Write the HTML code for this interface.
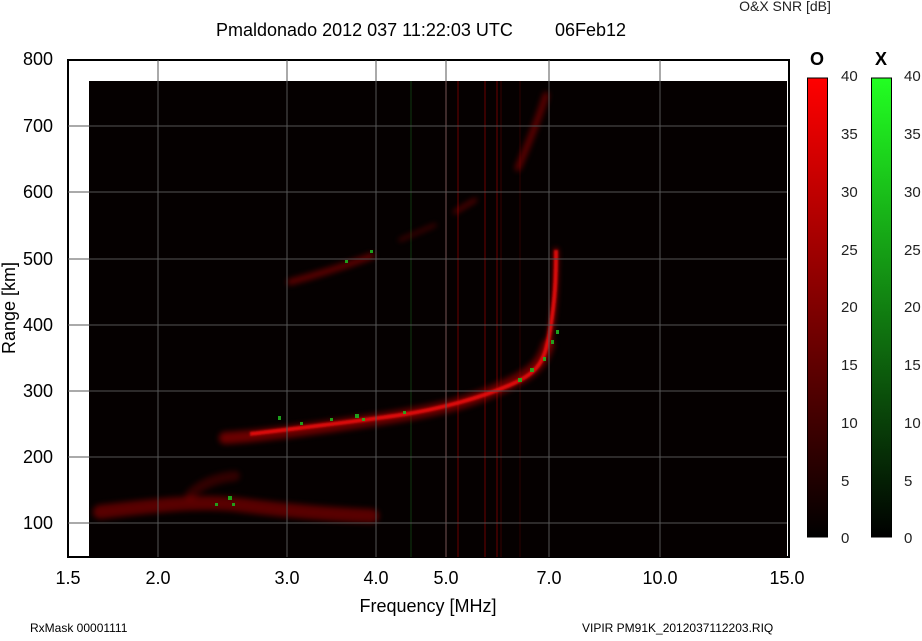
<!DOCTYPE html><html><head><style>
body{margin:0;background:#fff;width:922px;height:636px;overflow:hidden;font-family:"Liberation Sans",sans-serif}
</style></head><body>
<svg width="922" height="636" xmlns="http://www.w3.org/2000/svg" font-family="Liberation Sans, sans-serif">
<defs>
<filter id="b"><feGaussianBlur stdDeviation="3"/></filter>
<filter id="b2"><feGaussianBlur stdDeviation="1"/></filter>
<linearGradient id="gr" x1="0" y1="0" x2="0" y2="1"><stop offset="0" stop-color="#ff0000"/><stop offset="1" stop-color="#000"/></linearGradient>
<linearGradient id="gg" x1="0" y1="0" x2="0" y2="1"><stop offset="0" stop-color="#22ff22"/><stop offset="1" stop-color="#000"/></linearGradient>
</defs>
<text x="216" y="36" font-size="18">Pmaldonado 2012 037 11:22:03 UTC</text>
<text x="555" y="36" font-size="18">06Feb12</text>
<text x="787" y="11" font-size="14" fill="#222" text-anchor="middle" transform="translate(0,0)"><tspan x="785">O&amp;X SNR [dB]</tspan></text>
<rect x="68" y="60" width="721" height="497" fill="#fff" stroke="#000" stroke-width="2"/>
<rect x="89" y="81" width="698" height="476" fill="#050000"/>
<g stroke="#5a0000" stroke-width="1.5" opacity="0.8">
<line x1="446" y1="81" x2="446" y2="557"/><line x1="458" y1="81" x2="458" y2="557"/>
<line x1="485" y1="81" x2="485" y2="557"/><line x1="497" y1="81" x2="497" y2="557"/>
<line x1="501" y1="81" x2="501" y2="557" opacity="0.5"/><line x1="411" y1="81" x2="411" y2="557" stroke="#0f2f0f"/>
<line x1="520" y1="81" x2="520" y2="557" opacity="0.4"/>
</g>
<g fill="none" stroke="#c00000" stroke-linecap="round" filter="url(#b)">
<path d="M225 438 C260 436 320 428 380 419 S470 402 500 388 S540 368 548 345" stroke-width="12" opacity="0.55"/>
<path d="M548 345 C554 320 556 290 556 250" stroke-width="4" opacity="0.8"/>
<path d="M100 512 C150 506 200 500 240 505 S320 514 372 516" stroke-width="14" opacity="0.45"/>
<path d="M290 282 C320 274 345 266 372 256" stroke-width="6" opacity="0.5"/>
<path d="M400 240 L435 225" stroke-width="3" opacity="0.4"/>
<path d="M455 212 L475 200" stroke-width="4" opacity="0.45"/>
<path d="M518 168 C530 140 540 115 546 95" stroke-width="6" opacity="0.5"/>
<path d="M190 495 C200 485 215 478 235 476" stroke-width="10" opacity="0.25"/>
</g>
<g fill="none" stroke="#f01010" stroke-width="4" filter="url(#b2)" opacity="0.9">
<path d="M250 434 C300 428 360 421 400 415 S480 398 510 385 S545 360 550 330 S556 280 556 250"/>
</g>
<g fill="#20b020" opacity="0.9">
<rect x="278" y="416" width="3" height="4"/><rect x="300" y="422" width="3" height="3"/><rect x="330" y="418" width="3" height="3"/><rect x="355" y="414" width="4" height="4"/><rect x="362" y="418" width="3" height="3"/>
<rect x="403" y="411" width="3" height="3"/><rect x="518" y="378" width="4" height="4"/><rect x="530" y="368" width="4" height="4"/><rect x="543" y="357" width="3" height="4"/>
<rect x="551" y="340" width="3" height="4"/><rect x="556" y="330" width="3" height="4"/><rect x="228" y="496" width="4" height="4"/><rect x="215" y="503" width="3" height="3"/><rect x="232" y="503" width="3" height="3"/>
<rect x="370" y="250" width="3" height="3"/><rect x="345" y="260" width="3" height="3"/>
</g>
<g stroke="#555" stroke-width="1">
<line x1="158" y1="60" x2="158" y2="557"/><line x1="287" y1="60" x2="287" y2="557"/><line x1="376" y1="60" x2="376" y2="557"/>
<line x1="446" y1="60" x2="446" y2="557"/><line x1="549" y1="60" x2="549" y2="557"/><line x1="660" y1="60" x2="660" y2="557"/>
<line x1="68" y1="126" x2="787" y2="126"/><line x1="68" y1="192" x2="787" y2="192"/><line x1="68" y1="259" x2="787" y2="259"/>
<line x1="68" y1="325" x2="787" y2="325"/><line x1="68" y1="391" x2="787" y2="391"/><line x1="68" y1="457" x2="787" y2="457"/>
<line x1="68" y1="523" x2="787" y2="523"/>
</g>
<g font-size="18" text-anchor="end">
<text x="53" y="65">800</text><text x="53" y="132">700</text><text x="53" y="198">600</text><text x="53" y="265">500</text>
<text x="53" y="331">400</text><text x="53" y="397">300</text><text x="53" y="463">200</text><text x="53" y="529">100</text>
</g>
<g font-size="18" text-anchor="middle">
<text x="68" y="584">1.5</text><text x="158" y="584">2.0</text><text x="287" y="584">3.0</text><text x="376" y="584">4.0</text>
<text x="446" y="584">5.0</text><text x="549" y="584">7.0</text><text x="660" y="584">10.0</text><text x="787" y="584">15.0</text>
</g>
<text x="428" y="612" font-size="18" text-anchor="middle">Frequency [MHz]</text>
<text transform="translate(15,308) rotate(-90)" font-size="18" text-anchor="middle">Range [km]</text>
<text x="30" y="632" font-size="12">RxMask 00001111</text>
<text x="582" y="632" font-size="12">VIPIR  PM91K_2012037112203.RIQ</text>
<rect x="807.5" y="78" width="20" height="459" fill="url(#gr)" stroke="#000"/>
<rect x="871.5" y="78" width="20" height="459" fill="url(#gg)" stroke="#000"/>
<text x="817" y="65" font-size="18" font-weight="bold" text-anchor="middle">O</text>
<text x="881" y="65" font-size="18" font-weight="bold" text-anchor="middle">X</text>
<g font-size="15" fill="#222">
<text x="841" y="81">40</text><text x="841" y="139">35</text><text x="841" y="197">30</text><text x="841" y="255">25</text>
<text x="841" y="312">20</text><text x="841" y="370">15</text><text x="841" y="428">10</text><text x="841" y="486">5</text><text x="841" y="543">0</text>
<text x="904" y="81">40</text><text x="904" y="139">35</text><text x="904" y="197">30</text><text x="904" y="255">25</text>
<text x="904" y="312">20</text><text x="904" y="370">15</text><text x="904" y="428">10</text><text x="904" y="486">5</text><text x="904" y="543">0</text>
</g>
</svg>
</body></html>
